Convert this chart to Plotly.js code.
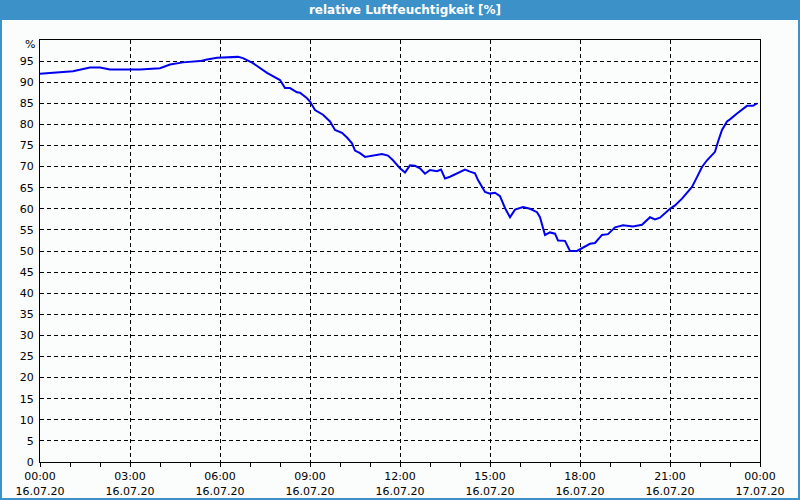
<!DOCTYPE html>
<html>
<head>
<meta charset="utf-8">
<script src="https://cdn.plot.ly/plotly-3.0.1.min.js"></script>
<style>html,body{margin:0;padding:0;background:#fbfdfd;}#chart{width:800px;height:500px;}</style>
</head>
<body>
<div id="chart"></div>
<script>
// time of day (16.07.2020) and relative humidity in %
var times = [
 "00:00","00:20","01:06","01:40","02:00","02:20","03:20","04:00","04:20","04:46",
 "05:20","05:34","05:54","06:36","06:46","07:06","07:34","08:00","08:10","08:20",
 "08:34","08:40","08:54","09:00","09:10","09:26","09:40","09:50","10:04","10:14",
 "10:24","10:30","10:40","10:50","11:06","11:24","11:36","11:46","12:00","12:10",
 "12:20","12:30","12:40","12:50","13:00","13:14","13:22","13:30","13:40","13:54",
 "14:10","14:20","14:30","14:36","14:50","15:00","15:10","15:20","15:30","15:40",
 "15:50","16:06","16:20","16:34","16:40","16:50","17:00","17:10","17:16","17:30",
 "17:40","17:54","18:06","18:20","18:30","18:44","18:56","19:10","19:26","19:46",
 "20:04","20:20","20:30","20:40","21:00","21:10","21:24","21:36","21:44","21:54",
 "22:04","22:14","22:30","22:36","22:44","22:54","23:00","23:14","23:26","23:34",
 "23:46","23:54"
];
var humidity = [
 92.0,92.2,92.6,93.5,93.5,93.0,93.0,93.3,94.2,94.7,
 95.0,95.4,95.8,96.0,95.7,94.5,92.2,90.5,88.6,88.6,
 87.6,87.5,86.2,85.4,83.4,82.3,80.7,78.7,78.0,76.9,
 75.5,73.8,73.2,72.3,72.7,73.0,72.6,71.5,69.6,68.6,
 70.3,70.2,69.6,68.3,69.2,68.9,69.3,67.2,67.6,68.4,
 69.3,68.8,68.4,66.8,64.0,63.6,63.8,63.0,60.2,58.0,
 59.8,60.4,60.0,59.2,58.0,53.8,54.4,54.1,52.5,52.4,
 50.0,50.0,50.8,51.7,51.9,53.8,54.0,55.6,56.1,55.8,
 56.2,58.0,57.5,57.9,60.0,60.8,62.4,64.0,65.2,67.5,
 69.9,71.5,73.5,75.9,78.7,80.7,81.2,82.6,83.8,84.4,
 84.4,85.0
];
var day = "2020-07-16";
var yTickVals = [0,5,10,15,20,25,30,35,40,45,50,55,60,65,70,75,80,85,90,95];
var yTickText = ["0","5","10","15","20","25","30","35","40","45","50","55","60","65","70","75","80","85","90","95"];
var yUnit = "%";
var chartTitle = "relative Luftfeuchtigkeit [%]";

var xs = times.map(function(t){ return day + " " + t; });

var trace = {
  x: xs, y: humidity, type: "scatter", mode: "lines",
  line: {color: "#0000ee", width: 2},
  hoverinfo: "skip"
};

var bar = "#3c91c8";
var layout = {
  width: 800, height: 500,
  margin: {l: 40, r: 40, t: 40, b: 38, pad: 0},
  paper_bgcolor: "#fbfdfd",
  plot_bgcolor: "#fbfdfd",
  showlegend: false,
  font: {family: "DejaVu Sans, sans-serif", size: 11, color: "#000"},
  title: {
    text: chartTitle,
    font: {family: "DejaVu Sans, sans-serif", size: 12, color: "#ffffff", weight: "bold"},
    x: 405/800, xanchor: "center", xref: "container",
    y: 1 - 10/500, yanchor: "middle", yref: "container"
  },
  xaxis: {
    type: "date",
    range: [day + " 00:00", "2020-07-17 00:00"],
    dtick: 3*3600*1000,
    tick0: day + " 00:00",
    tickformat: "%H:%M<br>%d.%m.%y",
    ticks: "outside", ticklen: 4, tickcolor: "#000",
    minor: {dtick: 3600*1000, ticks: "outside", ticklen: 4, tickcolor: "#000", showgrid: false},
    showgrid: true, gridcolor: "#000", gridwidth: 1, griddash: "4px,3px",
    showline: true, linecolor: "#000", linewidth: 1, mirror: true,
    zeroline: false, fixedrange: true,
    tickfont: {family: "DejaVu Sans, sans-serif", size: 11, color: "#000"}
  },
  yaxis: {
    range: [0, 100],
    tickvals: yTickVals, ticktext: yTickText,
    ticks: "", ticklabelstandoff: 3,
    showgrid: true, gridcolor: "#000", gridwidth: 1, griddash: "4px,3px",
    showline: true, linecolor: "#000", linewidth: 1, mirror: true,
    zeroline: false, fixedrange: true,
    tickfont: {family: "DejaVu Sans, sans-serif", size: 11, color: "#000"}
  },
  annotations: [
    {text: yUnit, xref: "paper", yref: "paper", x: -3/720, y: (462-45)/422,
     xanchor: "right", yanchor: "middle", showarrow: false,
     font: {family: "DejaVu Sans, sans-serif", size: 11, color: "#000"}}
  ],
  shapes: [
    {type: "rect", xref: "paper", yref: "paper", layer: "below",
     x0: -40/720, x1: 760/720, y0: (462-20)/422, y1: 462/422,
     fillcolor: bar, line: {width: 0}},
    {type: "rect", xref: "paper", yref: "paper", layer: "below",
     x0: -39/720, x1: 759/720, y0: (462-499)/422, y1: 462/422,
     fillcolor: "rgba(0,0,0,0)", line: {color: bar, width: 2}}
  ]
};

Plotly.newPlot("chart", [trace], layout, {displayModeBar: false, staticPlot: true});
</script>
</body>
</html>
